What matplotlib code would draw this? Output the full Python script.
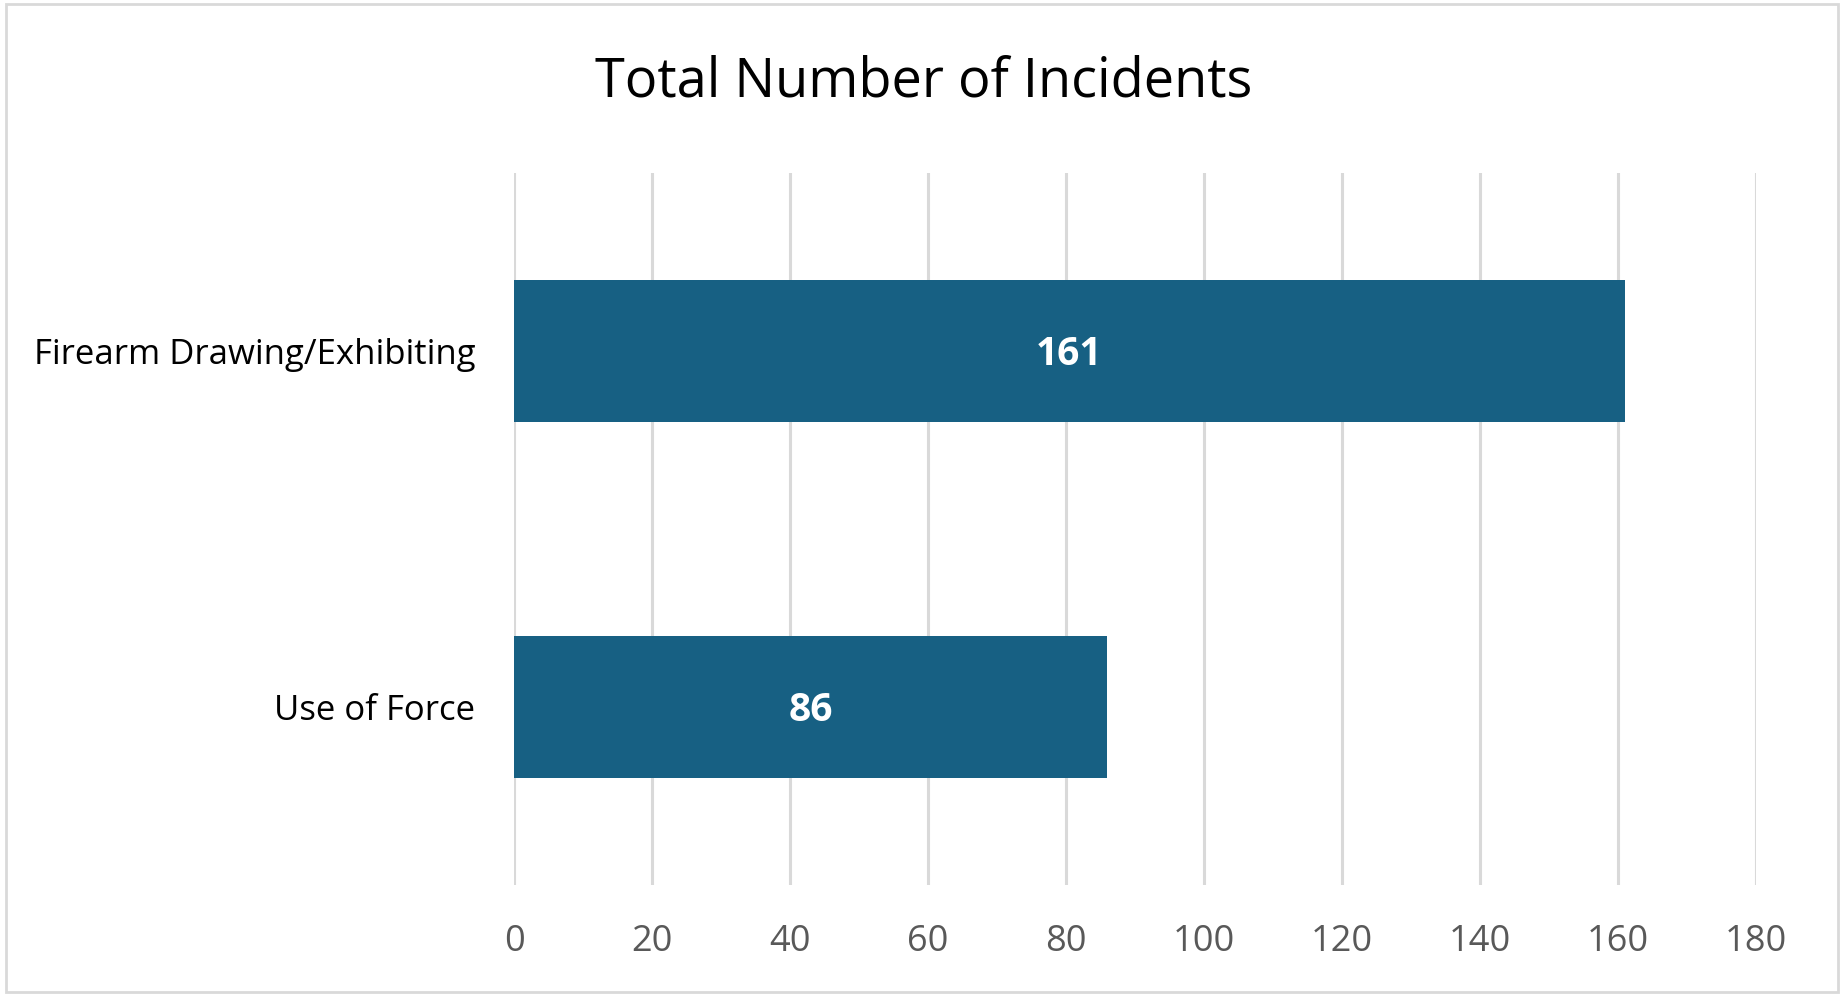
import matplotlib.pyplot as plt
from matplotlib.patches import Rectangle

categories = ["Use of Force", "Firearm Drawing/Exhibiting"]
incidents = [86, 161]
x_ticks = [0, 20, 40, 60, 80, 100, 120, 140, 160, 180]

BAR_COLOR = "#176083"
GRID_COLOR = "#d9d9d9"

plt.rcParams["font.family"] = ["Open Sans", "DejaVu Sans"]

fig = plt.figure(figsize=(18.47, 9.99), dpi=100)
ax = fig.add_axes([0.2783, 0.1141, 0.9507 - 0.2783, 0.8268 - 0.1141])

ypos = list(range(len(categories)))
bars = ax.barh(ypos, incidents, height=0.4, color=BAR_COLOR, zorder=3)
for rect, val in zip(bars, incidents):
    ax.text(rect.get_width() / 2, rect.get_y() + rect.get_height() / 2 - 0.01, str(val),
            ha="center", va="center", color="white", fontsize=28,
            fontweight="bold", zorder=4)

ax.set_xlim(0, 180)
ax.set_ylim(-0.5, 1.5)
ax.set_xticks(x_ticks)
ax.set_yticks(ypos)
ax.set_yticklabels(categories)
ax.xaxis.grid(True, color=GRID_COLOR, linewidth=2.2, zorder=0)
ax.tick_params(axis="x", length=0, pad=28, labelsize=26, labelcolor="#595959")
ax.tick_params(axis="y", length=0, pad=28, labelsize=25, labelcolor="black")
for side in ax.spines.values():
    side.set_visible(False)

fig.text(0.5, 0.918, "Total Number of Incidents", ha="center", va="center",
         fontsize=39, color="black")

fig.patches.append(Rectangle((0.003, 0.007), 0.992, 0.989, transform=fig.transFigure,
                             fill=False, edgecolor=GRID_COLOR, linewidth=2))

fig.savefig("out.png", dpi=100)
